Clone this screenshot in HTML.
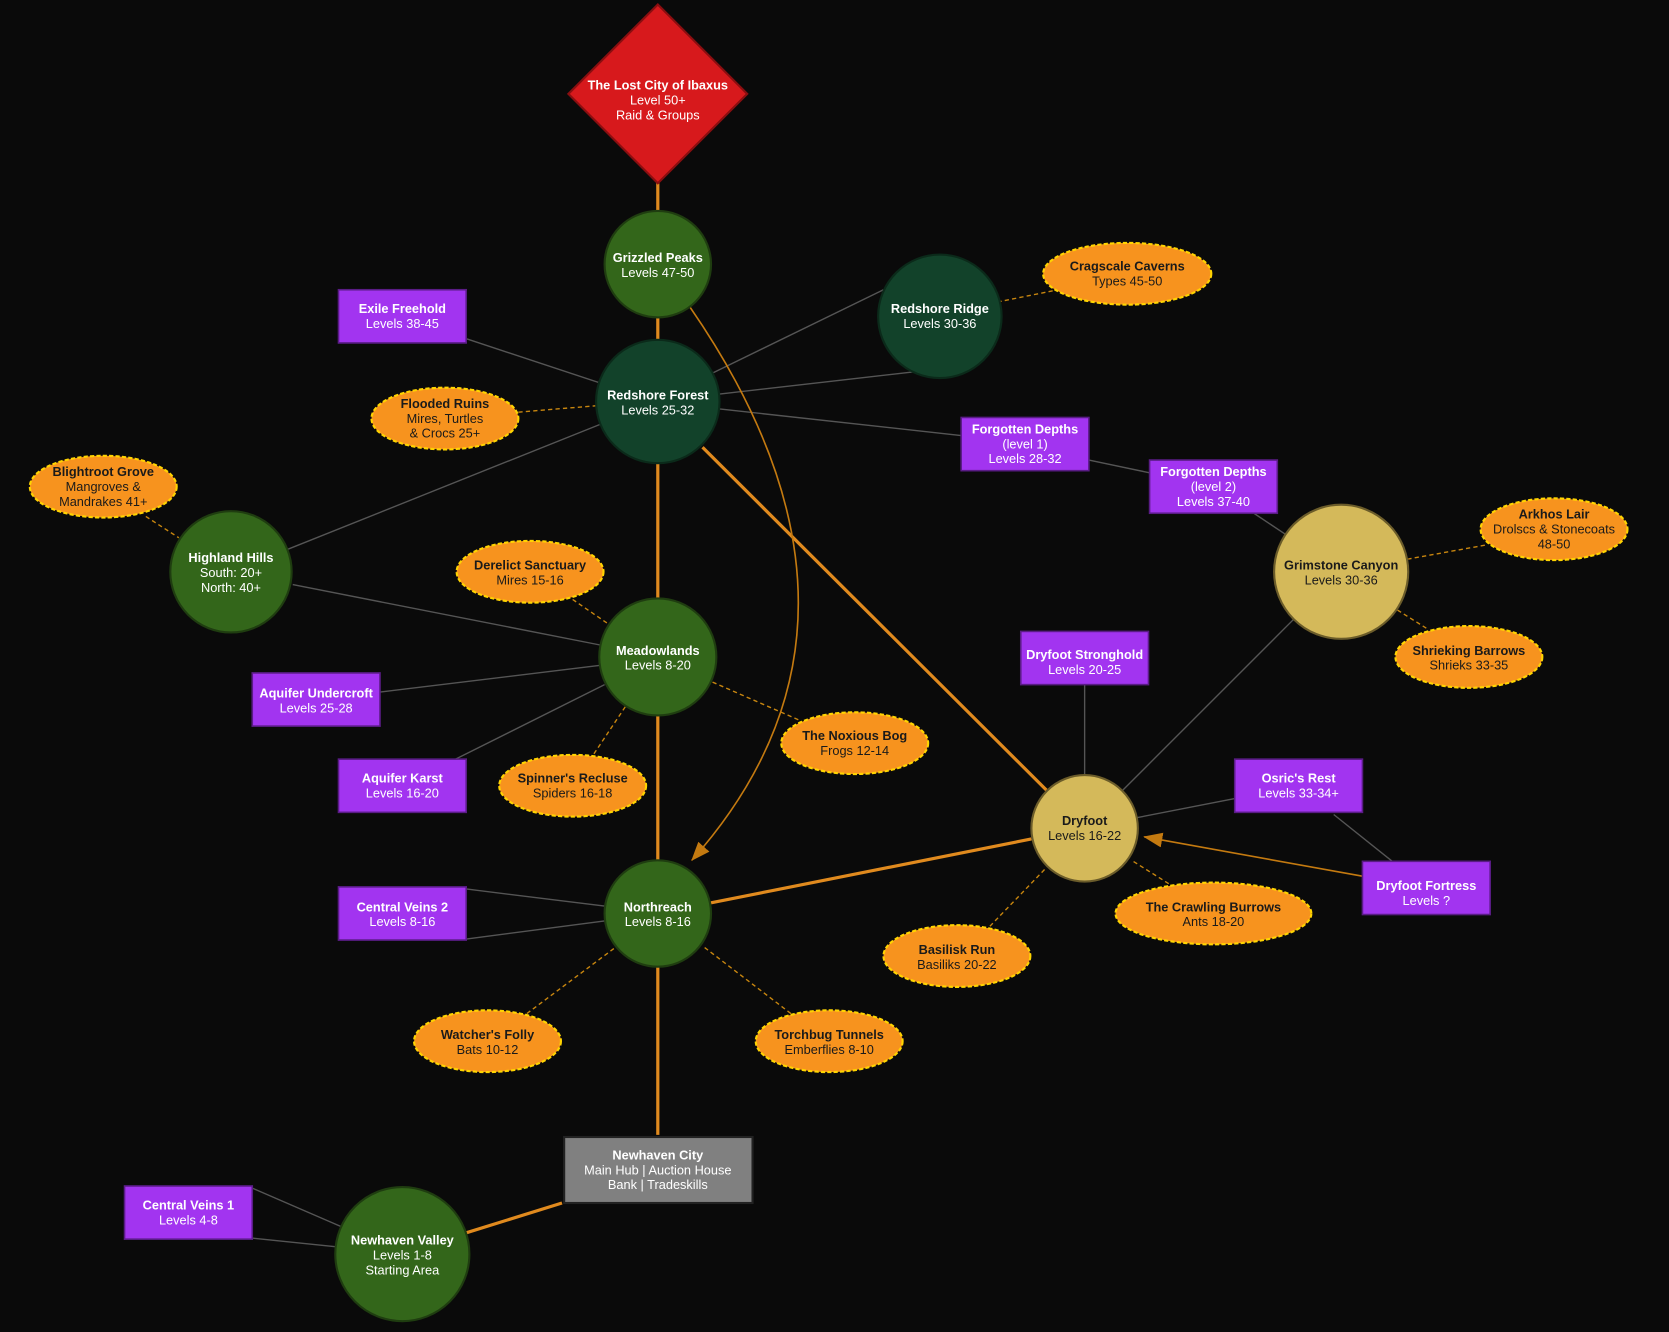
<!DOCTYPE html>
<html><head><meta charset="utf-8"><style>
html,body{margin:0;padding:0;background:#0a0a0a;}
svg{display:block}
text{font-family:"Liberation Sans",sans-serif;font-size:12px;text-anchor:middle}
.w{fill:#fff}.d{fill:#1a1a1a}
.b{font-weight:bold}
.g{stroke:#555;stroke-width:1.3;fill:none}
.o{stroke:#e08a1e;stroke-width:3;fill:none}
.ot{stroke:#c47a10;stroke-width:1.5;fill:none}
.dash{stroke:#c8860f;stroke-width:1.3;stroke-dasharray:4,3;fill:none}
.gc{fill:#33661a;stroke:#1f3d10;stroke-width:2}
.dc{fill:#12422a;stroke:#0b2a1a;stroke-width:2}
.yc{fill:#d4b95a;stroke:#6b5c2a;stroke-width:2}
.el{fill:#f7931e;stroke:#ffd400;stroke-width:2;stroke-dasharray:4,2}
.pr{fill:#a234f0;stroke:#5a1c86;stroke-width:1.5}
</style></head><body>
<svg width="1669" height="1332" viewBox="0 0 1568 1251" xmlns="http://www.w3.org/2000/svg">
<rect width="1568" height="1251" fill="#0a0a0a"/>
<defs>
<marker id="ah2" markerWidth="18" markerHeight="14" refX="17" refY="7" orient="auto" markerUnits="userSpaceOnUse"><path d="M0,0 L18,7 L0,14 z" fill="#c47a10"/></marker></defs>
<path class="g" d="M438,318L565,360 M670,350L830,272 M676,370L860,349 M676,384L903,409 M1023,432L1080,444 M1178,482L1208,502 M565,398L270,516 M275,549L565,606 M357,650L563,625 M428,713L568,643 M1019,643L1019,728 M1215,582L1055,742 M1160,750L1068,768 M1253,765L1308,809 M438,835L568,851 M438,882L568,865 M237,1116L320,1152 M237,1163L315,1171"/>
<path class="dash" d="M989,273L940,283 M487,387L560,381 M137,485L168,505 M538,563L573,587 M558,708L588,663 M750,676L668,640 M1395,512L1323,525 M1340,590L1313,573 M930,870L983,815 M1098,830L1063,808 M495,952L578,890 M743,952L662,890"/>
<path class="o" d="M618,172L618,198 M618,298L618,320 M618,435L618,562 M618,672L618,808 M618,908L618,1066 M528,1130L438,1158 M660,420L983,742 M668,848L969,788"/>
<path class="ot" d="M648,288 Q851,582 650,808" marker-end="url(#ah2)"/>
<path class="ot" d="M1280,823L1075,786" marker-end="url(#ah2)"/>
<polygon points="618,4 702,88 618,172 534,88" fill="#d7191c" stroke="#8a0e10" stroke-width="2"/>
<text x="618" y="84" class="w b">The Lost City of Ibaxus</text><text x="618" y="98" class="w">Level 50+</text><text x="618" y="112" class="w">Raid &amp; Groups</text>
<circle cx="618" cy="248" r="50" class="gc"/><text x="618" y="246" class="w b">Grizzled Peaks</text><text x="618" y="260" class="w">Levels 47-50</text>
<circle cx="618" cy="377" r="58" class="dc"/><text x="618" y="375" class="w b">Redshore Forest</text><text x="618" y="389" class="w">Levels 25-32</text>
<circle cx="883" cy="297" r="58" class="dc"/><text x="883" y="294" class="w b">Redshore Ridge</text><text x="883" y="308" class="w">Levels 30-36</text>
<circle cx="217" cy="537" r="57" class="gc"/><text x="217" y="528" class="w b">Highland Hills</text><text x="217" y="542" class="w">South: 20+</text><text x="217" y="556" class="w">North: 40+</text>
<circle cx="1260" cy="537" r="63" class="yc"/><text x="1260" y="535" class="d b">Grimstone Canyon</text><text x="1260" y="549" class="d">Levels 30-36</text>
<circle cx="618" cy="617" r="55" class="gc"/><text x="618" y="615" class="w b">Meadowlands</text><text x="618" y="629" class="w">Levels 8-20</text>
<circle cx="1019" cy="778" r="50" class="yc"/><text x="1019" y="775" class="d b">Dryfoot</text><text x="1019" y="789" class="d">Levels 16-22</text>
<circle cx="618" cy="858" r="50" class="gc"/><text x="618" y="856" class="w b">Northreach</text><text x="618" y="870" class="w">Levels 8-16</text>
<circle cx="378" cy="1178" r="63" class="gc"/><text x="378" y="1169" class="w b">Newhaven Valley</text><text x="378" y="1183" class="w">Levels 1-8</text><text x="378" y="1197" class="w">Starting Area</text>
<ellipse cx="1059" cy="257" rx="79" ry="29" class="el"/><text x="1059" y="254" class="d b">Cragscale Caverns</text><text x="1059" y="268" class="d">Types 45-50</text>
<ellipse cx="418" cy="393" rx="69" ry="29" class="el"/><text x="418" y="383" class="d b">Flooded Ruins</text><text x="418" y="397" class="d">Mires, Turtles</text><text x="418" y="411" class="d">&amp; Crocs 25+</text>
<ellipse cx="97" cy="457" rx="69" ry="29" class="el"/><text x="97" y="447" class="d b">Blightroot Grove</text><text x="97" y="461" class="d">Mangroves &amp;</text><text x="97" y="475" class="d">Mandrakes 41+</text>
<ellipse cx="1460" cy="497" rx="69" ry="29" class="el"/><text x="1460" y="487" class="d b">Arkhos Lair</text><text x="1460" y="501" class="d">Drolscs &amp; Stonecoats</text><text x="1460" y="515" class="d">48-50</text>
<ellipse cx="1380" cy="617" rx="69" ry="29" class="el"/><text x="1380" y="615" class="d b">Shrieking Barrows</text><text x="1380" y="629" class="d">Shrieks 33-35</text>
<ellipse cx="498" cy="537" rx="69" ry="29" class="el"/><text x="498" y="535" class="d b">Derelict Sanctuary</text><text x="498" y="549" class="d">Mires 15-16</text>
<ellipse cx="538" cy="738" rx="69" ry="29" class="el"/><text x="538" y="735" class="d b">Spinner's Recluse</text><text x="538" y="749" class="d">Spiders 16-18</text>
<ellipse cx="803" cy="698" rx="69" ry="29" class="el"/><text x="803" y="695" class="d b">The Noxious Bog</text><text x="803" y="709" class="d">Frogs 12-14</text>
<ellipse cx="1140" cy="858" rx="92" ry="29" class="el"/><text x="1140" y="856" class="d b">The Crawling Burrows</text><text x="1140" y="870" class="d">Ants 18-20</text>
<ellipse cx="899" cy="898" rx="69" ry="29" class="el"/><text x="899" y="896" class="d b">Basilisk Run</text><text x="899" y="910" class="d">Basiliks 20-22</text>
<ellipse cx="458" cy="978" rx="69" ry="29" class="el"/><text x="458" y="976" class="d b">Watcher's Folly</text><text x="458" y="990" class="d">Bats 10-12</text>
<ellipse cx="779" cy="978" rx="69" ry="29" class="el"/><text x="779" y="976" class="d b">Torchbug Tunnels</text><text x="779" y="990" class="d">Emberflies 8-10</text>
<rect x="318" y="272" width="120" height="50" class="pr"/><text x="378" y="294" class="w b">Exile Freehold</text><text x="378" y="308" class="w">Levels 38-45</text>
<rect x="903" y="392" width="120" height="50" class="pr"/><text x="963" y="407" class="w b">Forgotten Depths</text><text x="963" y="421" class="w">(level 1)</text><text x="963" y="435" class="w">Levels 28-32</text>
<rect x="1080" y="432" width="120" height="50" class="pr"/><text x="1140" y="447" class="w b">Forgotten Depths</text><text x="1140" y="461" class="w">(level 2)</text><text x="1140" y="475" class="w">Levels 37-40</text>
<rect x="959" y="593" width="120" height="50" class="pr"/><text x="1019" y="619" class="w b">Dryfoot Stronghold</text><text x="1019" y="633" class="w">Levels 20-25</text>
<rect x="237" y="632" width="120" height="50" class="pr"/><text x="297" y="655" class="w b">Aquifer Undercroft</text><text x="297" y="669" class="w">Levels 25-28</text>
<rect x="318" y="713" width="120" height="50" class="pr"/><text x="378" y="735" class="w b">Aquifer Karst</text><text x="378" y="749" class="w">Levels 16-20</text>
<rect x="1160" y="713" width="120" height="50" class="pr"/><text x="1220" y="735" class="w b">Osric's Rest</text><text x="1220" y="749" class="w">Levels 33-34+</text>
<rect x="1280" y="809" width="120" height="50" class="pr"/><text x="1340" y="836" class="w b">Dryfoot Fortress</text><text x="1340" y="850" class="w">Levels ?</text>
<rect x="318" y="833" width="120" height="50" class="pr"/><text x="378" y="856" class="w b">Central Veins 2</text><text x="378" y="870" class="w">Levels 8-16</text>
<rect x="117" y="1114" width="120" height="50" class="pr"/><text x="177" y="1136" class="w b">Central Veins 1</text><text x="177" y="1150" class="w">Levels 4-8</text>
<rect x="530" y="1068" width="177" height="62" fill="#808080" stroke="#222" stroke-width="2"/><text x="618" y="1089" class="w b">Newhaven City</text><text x="618" y="1103" class="w">Main Hub | Auction House</text><text x="618" y="1117" class="w">Bank | Tradeskills</text>
</svg>
</body></html>
